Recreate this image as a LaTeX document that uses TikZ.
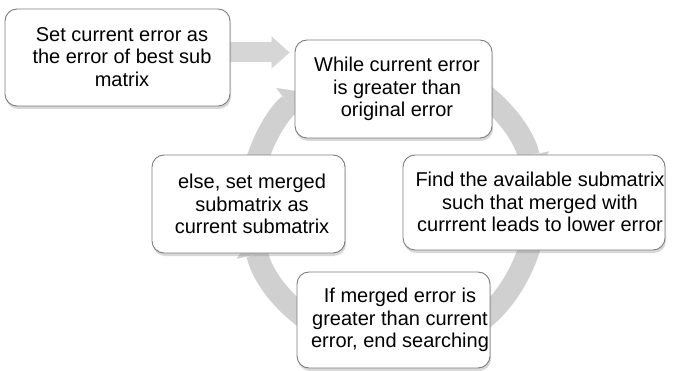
\documentclass[tikz,border=0pt]{standalone}
\usepackage{fontspec}
\setmainfont{Liberation Sans}
\usetikzlibrary{shadows,arrows.meta,calc}
\definecolor{ringgray}{RGB}{208,208,208}
\definecolor{feedgray}{RGB}{214,214,214}
\definecolor{boxline}{RGB}{125,125,125}
\pgfdeclarelayer{background}
\pgfsetlayers{background,main}

\begin{document}
\begin{tikzpicture}[x=1pt,y=-1pt,
  box/.style={draw=boxline, line width=0.9pt, fill=white, rounded corners=12pt,
    drop shadow={shadow xshift=1pt, shadow yshift=-3pt, opacity=0.3}},
  txt/.style={align=center, font=\fontsize{20}{22.5}\selectfont, inner sep=0pt},
  ring/.style={draw=ringgray, line width=22pt,
    -{Triangle[length=20pt,width=42pt,line width=0.01pt]}},
  feed/.style={draw=feedgray, line width=20pt,
    -{Triangle[length=18pt,width=32pt,line width=0.01pt]}, shorten >=5pt}
]
\useasboundingbox (0,0) rectangle (676,371);

% cycle ring behind the step boxes (clockwise)
\coordinate (C) at (393,205);
\draw[ring] ($(C)+(-62:143)$) arc[start angle=-62, end angle=-12, radius=143];
\draw[ring] ($(C)+(12:143)$)  arc[start angle=12,  end angle=66,  radius=143];
\draw[ring] ($(C)+(112:143)$) arc[start angle=112, end angle=168, radius=143];
\draw[ring] ($(C)+(190:143)$) arc[start angle=190, end angle=232, radius=143];

% step boxes
\node[box, minimum width=225, minimum height=97] (set)    at (117.5,57.5) {};
\node[box, minimum width=197, minimum height=98] (top)    at (393.5,89)   {};
\node[box, minimum width=262, minimum height=95] (find)   at (534,202.5)  {};
\node[box, minimum width=193, minimum height=98] (else)   at (248.5,204)  {};
\node[box, minimum width=193, minimum height=96] (bottom) at (393.5,320)  {};

% step texts
\node[txt] (setT)    at (122,57)  {Set current error as\\the error of best sub\\matrix};
\node[txt] (topT)    at (397,89)  {While current error\\is greater than\\original error};
\node[txt] (findT)   at (540,202) {Find the available submatrix\\such that merged with\\currrent leads to lower error};
\node[txt] (elseT)   at (252,204) {else, set merged\\submatrix as\\current submatrix};
\node[txt] (bottomT) at (400,320) {If merged error is\\greater than current\\error, end searching};

% page background and entry arrow into the loop
\begin{pgfonlayer}{background}
\fill[white] (0,0) rectangle (676,371);
\draw[feed] ([yshift=5pt]set.east) -- ([yshift=5pt]set.east -| top.west);
\end{pgfonlayer}
\end{tikzpicture}
\end{document}
